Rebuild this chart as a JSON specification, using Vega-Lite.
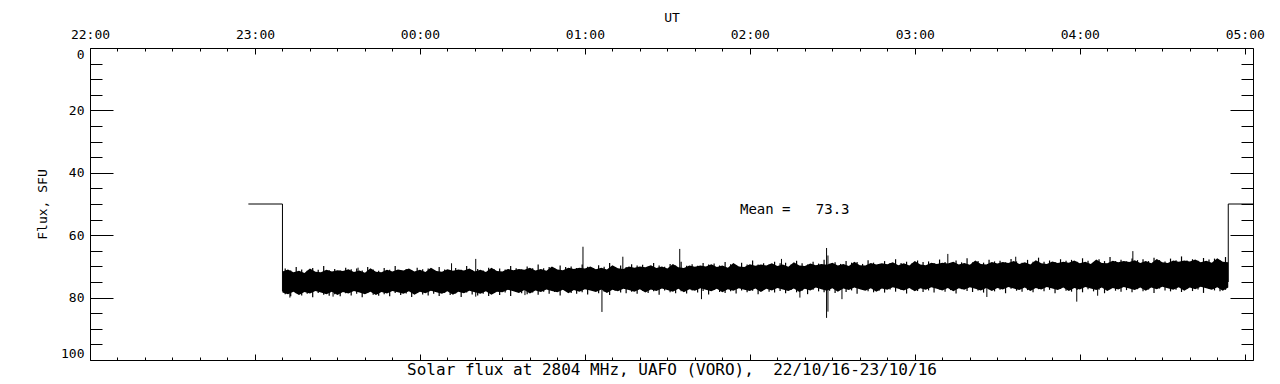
{
  "$schema": "https://vega.github.io/schema/vega-lite/v6.json",
  "width": 1163,
  "height": 312,
  "autosize": {"type": "none"},
  "padding": {"left": 90, "top": 48, "right": 27, "bottom": 24},
  "background": "white",
  "config": {
    "view": {"stroke": "black", "strokeWidth": 1},
    "axis": {
      "domain": false,
      "grid": false,
      "tickColor": "black",
      "tickWidth": 1,
      "labelColor": "black",
      "titleColor": "black",
      "labelFont": "DejaVu Sans Mono",
      "titleFont": "DejaVu Sans Mono",
      "labelFontSize": 13,
      "titleFontSize": 13,
      "titleFontWeight": "normal",
      "labelOverlap": false
    }
  },
  "datasets": {
    "band": [
      {"m":70,"fmin":71.6,"fmax":78.4},{"m":72,"fmin":71.0,"fmax":78.9},{"m":74,"fmin":71.9,"fmax":78.1},{"m":76,"fmin":71.4,"fmax":79.2},{"m":78,"fmin":72.1,"fmax":78.2},
      {"m":80,"fmin":70.7,"fmax":78.7},{"m":82,"fmin":71.7,"fmax":77.9},{"m":84,"fmin":71.9,"fmax":78.4},{"m":86,"fmin":71.1,"fmax":78.9},{"m":88,"fmin":71.6,"fmax":78.1},
      {"m":90,"fmin":71.2,"fmax":79.2},{"m":92,"fmin":71.5,"fmax":78.2},{"m":94,"fmin":70.9,"fmax":78.7},{"m":96,"fmin":71.8,"fmax":77.9},{"m":98,"fmin":71.3,"fmax":78.4},
      {"m":100,"fmin":72.0,"fmax":78.9},{"m":102,"fmin":70.6,"fmax":78.1},{"m":104,"fmin":71.7,"fmax":79.2},{"m":106,"fmin":71.9,"fmax":78.2},{"m":108,"fmin":71.1,"fmax":78.7},
      {"m":110,"fmin":71.6,"fmax":77.9},{"m":112,"fmin":71.0,"fmax":78.3},{"m":114,"fmin":71.3,"fmax":78.8},{"m":116,"fmin":70.7,"fmax":78.0},{"m":118,"fmin":71.6,"fmax":79.1},
      {"m":120,"fmin":71.1,"fmax":78.1},{"m":122,"fmin":71.8,"fmax":78.6},{"m":124,"fmin":70.4,"fmax":77.8},{"m":126,"fmin":71.5,"fmax":78.3},{"m":128,"fmin":71.7,"fmax":78.8},
      {"m":130,"fmin":70.9,"fmax":78.0},{"m":132,"fmin":71.4,"fmax":79.1},{"m":134,"fmin":71.0,"fmax":78.1},{"m":136,"fmin":71.3,"fmax":78.6},{"m":138,"fmin":70.7,"fmax":77.8},
      {"m":140,"fmin":71.6,"fmax":78.3},{"m":142,"fmin":71.1,"fmax":78.8},{"m":144,"fmin":71.8,"fmax":78.0},{"m":146,"fmin":70.4,"fmax":79.1},{"m":148,"fmin":71.5,"fmax":78.1},
      {"m":150,"fmin":71.6,"fmax":78.3},{"m":152,"fmin":70.8,"fmax":77.5},{"m":154,"fmin":71.2,"fmax":78.0},{"m":156,"fmin":70.8,"fmax":78.5},{"m":158,"fmin":71.1,"fmax":77.6},
      {"m":160,"fmin":70.4,"fmax":78.7},{"m":162,"fmin":71.3,"fmax":77.7},{"m":164,"fmin":70.8,"fmax":78.2},{"m":166,"fmin":71.4,"fmax":77.4},{"m":168,"fmin":70.0,"fmax":77.9},
      {"m":170,"fmin":71.0,"fmax":78.3},{"m":172,"fmin":71.2,"fmax":77.5},{"m":174,"fmin":70.4,"fmax":78.6},{"m":176,"fmin":70.8,"fmax":77.6},{"m":178,"fmin":70.4,"fmax":78.1},
      {"m":180,"fmin":70.7,"fmax":77.3},{"m":182,"fmin":70.0,"fmax":77.7},{"m":184,"fmin":70.9,"fmax":78.2},{"m":186,"fmin":70.4,"fmax":77.4},{"m":188,"fmin":71.0,"fmax":78.5},
      {"m":190,"fmin":69.6,"fmax":77.5},{"m":192,"fmin":70.6,"fmax":78.0},{"m":194,"fmin":70.8,"fmax":77.2},{"m":196,"fmin":70.0,"fmax":77.6},{"m":198,"fmin":70.4,"fmax":78.1},
      {"m":200,"fmin":70.0,"fmax":77.3},{"m":202,"fmin":70.3,"fmax":78.4},{"m":204,"fmin":69.6,"fmax":77.4},{"m":206,"fmin":70.5,"fmax":77.9},{"m":208,"fmin":70.0,"fmax":77.1},
      {"m":210,"fmin":70.7,"fmax":77.6},{"m":212,"fmin":69.2,"fmax":78.1},{"m":214,"fmin":70.3,"fmax":77.2},{"m":216,"fmin":70.5,"fmax":78.3},{"m":218,"fmin":69.7,"fmax":77.3},
      {"m":220,"fmin":70.1,"fmax":77.8},{"m":222,"fmin":69.7,"fmax":77.0},{"m":224,"fmin":70.0,"fmax":77.5},{"m":226,"fmin":69.3,"fmax":78.0},{"m":228,"fmin":70.2,"fmax":77.2},
      {"m":230,"fmin":69.7,"fmax":78.3},{"m":232,"fmin":70.4,"fmax":77.3},{"m":234,"fmin":68.9,"fmax":77.8},{"m":236,"fmin":70.0,"fmax":77.0},{"m":238,"fmin":70.2,"fmax":77.5},
      {"m":240,"fmin":69.3,"fmax":77.9},{"m":242,"fmin":69.8,"fmax":77.1},{"m":244,"fmin":69.4,"fmax":78.2},{"m":246,"fmin":69.7,"fmax":77.2},{"m":248,"fmin":69.0,"fmax":77.7},
      {"m":250,"fmin":69.9,"fmax":76.9},{"m":252,"fmin":69.4,"fmax":77.4},{"m":254,"fmin":70.1,"fmax":77.9},{"m":256,"fmin":68.7,"fmax":77.1},{"m":258,"fmin":69.7,"fmax":78.2},
      {"m":260,"fmin":69.9,"fmax":77.2},{"m":262,"fmin":69.1,"fmax":77.7},{"m":264,"fmin":69.6,"fmax":76.8},{"m":266,"fmin":69.2,"fmax":77.3},{"m":268,"fmin":69.5,"fmax":77.8},
      {"m":270,"fmin":68.8,"fmax":77.0},{"m":272,"fmin":69.7,"fmax":78.1},{"m":274,"fmin":69.2,"fmax":77.1},{"m":276,"fmin":69.9,"fmax":77.6},{"m":278,"fmin":68.5,"fmax":76.8},
      {"m":280,"fmin":69.6,"fmax":77.3},{"m":282,"fmin":69.7,"fmax":77.8},{"m":284,"fmin":68.9,"fmax":77.0},{"m":286,"fmin":69.4,"fmax":78.1},{"m":288,"fmin":69.0,"fmax":77.1},
      {"m":290,"fmin":69.3,"fmax":77.5},{"m":292,"fmin":68.7,"fmax":76.7},{"m":294,"fmin":69.6,"fmax":77.2},{"m":296,"fmin":69.0,"fmax":77.7},{"m":298,"fmin":69.7,"fmax":76.9},
      {"m":300,"fmin":68.3,"fmax":78.0},{"m":302,"fmin":69.4,"fmax":77.0},{"m":304,"fmin":69.6,"fmax":77.5},{"m":306,"fmin":68.8,"fmax":76.7},{"m":308,"fmin":69.2,"fmax":77.2},
      {"m":310,"fmin":68.8,"fmax":77.7},{"m":312,"fmin":69.1,"fmax":76.9},{"m":314,"fmin":68.5,"fmax":78.0},{"m":316,"fmin":69.4,"fmax":77.0},{"m":318,"fmin":68.9,"fmax":77.5},
      {"m":320,"fmin":69.5,"fmax":76.7},{"m":322,"fmin":68.1,"fmax":77.2},{"m":324,"fmin":69.2,"fmax":77.7},{"m":326,"fmin":69.4,"fmax":76.9},{"m":328,"fmin":68.6,"fmax":77.9},
      {"m":330,"fmin":69.1,"fmax":76.9},{"m":332,"fmin":68.6,"fmax":77.4},{"m":334,"fmin":68.9,"fmax":76.6},{"m":336,"fmin":68.3,"fmax":77.1},{"m":338,"fmin":69.2,"fmax":77.6},
      {"m":340,"fmin":68.7,"fmax":76.8},{"m":342,"fmin":69.4,"fmax":77.9},{"m":344,"fmin":68.0,"fmax":76.9},{"m":346,"fmin":69.0,"fmax":77.4},{"m":348,"fmin":69.2,"fmax":76.6},
      {"m":350,"fmin":68.4,"fmax":77.1},{"m":352,"fmin":68.9,"fmax":77.6},{"m":354,"fmin":68.5,"fmax":76.8},{"m":356,"fmin":68.8,"fmax":77.9},{"m":358,"fmin":68.1,"fmax":76.9},
      {"m":360,"fmin":69.0,"fmax":77.4},{"m":362,"fmin":68.5,"fmax":76.6},{"m":364,"fmin":69.2,"fmax":77.1},{"m":366,"fmin":67.8,"fmax":77.6},{"m":368,"fmin":68.9,"fmax":76.8},
      {"m":370,"fmin":69.0,"fmax":77.9},{"m":372,"fmin":68.2,"fmax":76.9},{"m":374,"fmin":68.7,"fmax":77.4},{"m":376,"fmin":68.3,"fmax":76.6},{"m":378,"fmin":68.6,"fmax":77.1},
      {"m":380,"fmin":68.0,"fmax":77.6},{"m":382,"fmin":68.9,"fmax":76.8},{"m":384,"fmin":68.3,"fmax":77.8},{"m":386,"fmin":69.0,"fmax":76.8},{"m":388,"fmin":67.6,"fmax":77.3},
      {"m":390,"fmin":68.7,"fmax":76.5},{"m":392,"fmin":68.9,"fmax":77.0},{"m":394,"fmin":68.1,"fmax":77.5},{"m":396,"fmin":68.5,"fmax":76.7},{"m":398,"fmin":68.1,"fmax":77.8},
      {"m":400,"fmin":68.4,"fmax":76.8},{"m":402,"fmin":67.8,"fmax":77.3},{"m":404,"fmin":68.7,"fmax":76.5},{"m":406,"fmin":68.2,"fmax":77.0},{"m":408,"fmin":68.8,"fmax":77.5},
      {"m":410,"fmin":67.4,"fmax":76.7},{"m":412,"fmin":68.5,"fmax":77.8},{"m":414,"fmin":68.7,"fmax":76.8}
    ],
    "noise": [
      {"m":71,"fmin":70.7,"fmax":78.9},{"m":73,"fmin":71.3,"fmax":79.6},{"m":75,"fmin":70.2,"fmax":78.6},{"m":77,"fmin":71.0,"fmax":79.3},{"m":79,"fmin":71.4,"fmax":78.8},
      {"m":81,"fmin":70.5,"fmax":79.9},{"m":83,"fmin":71.1,"fmax":78.5},{"m":85,"fmin":69.9,"fmax":79.1},{"m":87,"fmin":71.2,"fmax":79.4},{"m":89,"fmin":70.8,"fmax":78.9},
      {"m":91,"fmin":71.3,"fmax":79.6},{"m":93,"fmin":70.4,"fmax":78.6},{"m":95,"fmin":70.9,"fmax":79.3},{"m":97,"fmin":70.7,"fmax":78.8},{"m":99,"fmin":71.3,"fmax":79.9},
      {"m":101,"fmin":70.2,"fmax":78.5},{"m":103,"fmin":71.0,"fmax":79.1},{"m":105,"fmin":71.4,"fmax":79.4},{"m":107,"fmin":70.5,"fmax":78.9},{"m":109,"fmin":71.1,"fmax":79.6},
      {"m":111,"fmin":69.9,"fmax":78.5},{"m":113,"fmin":71.2,"fmax":79.2},{"m":115,"fmin":70.8,"fmax":78.7},{"m":117,"fmin":71.3,"fmax":79.8},{"m":119,"fmin":70.4,"fmax":78.4},
      {"m":121,"fmin":70.9,"fmax":79.0},{"m":123,"fmin":70.7,"fmax":79.3},{"m":125,"fmin":71.3,"fmax":78.8},{"m":127,"fmin":70.2,"fmax":79.5},{"m":129,"fmin":71.0,"fmax":78.5},
      {"m":131,"fmin":71.4,"fmax":79.2},{"m":133,"fmin":70.5,"fmax":78.7},{"m":135,"fmin":71.1,"fmax":79.8},{"m":137,"fmin":69.9,"fmax":78.4},{"m":139,"fmin":71.2,"fmax":79.0},
      {"m":141,"fmin":70.8,"fmax":79.3},{"m":143,"fmin":71.3,"fmax":78.8},{"m":145,"fmin":70.4,"fmax":79.5},{"m":147,"fmin":70.9,"fmax":78.5},{"m":149,"fmin":70.7,"fmax":79.2},
      {"m":151,"fmin":71.0,"fmax":78.4},{"m":153,"fmin":69.9,"fmax":79.5},{"m":155,"fmin":70.6,"fmax":78.1},{"m":157,"fmin":71.0,"fmax":78.6},{"m":159,"fmin":70.0,"fmax":78.9},
      {"m":161,"fmin":70.6,"fmax":78.4},{"m":163,"fmin":69.4,"fmax":79.1},{"m":165,"fmin":70.6,"fmax":78.1},{"m":167,"fmin":70.2,"fmax":78.8},{"m":169,"fmin":70.7,"fmax":78.2},
      {"m":171,"fmin":69.7,"fmax":79.3},{"m":173,"fmin":70.2,"fmax":77.9},{"m":175,"fmin":70.0,"fmax":78.5},{"m":177,"fmin":70.5,"fmax":78.8},{"m":179,"fmin":69.4,"fmax":78.3},
      {"m":181,"fmin":70.1,"fmax":79.0},{"m":183,"fmin":70.5,"fmax":77.9},{"m":185,"fmin":69.6,"fmax":78.6},{"m":187,"fmin":70.1,"fmax":78.1},{"m":189,"fmin":68.9,"fmax":79.2},
      {"m":191,"fmin":70.2,"fmax":77.8},{"m":193,"fmin":69.7,"fmax":78.4},{"m":195,"fmin":70.2,"fmax":78.6},{"m":197,"fmin":69.3,"fmax":78.1},{"m":199,"fmin":69.7,"fmax":78.8},
      {"m":201,"fmin":69.5,"fmax":77.8},{"m":203,"fmin":70.1,"fmax":78.5},{"m":205,"fmin":68.9,"fmax":78.0},{"m":207,"fmin":69.7,"fmax":79.1},{"m":209,"fmin":70.1,"fmax":77.7},
      {"m":211,"fmin":69.2,"fmax":78.3},{"m":213,"fmin":69.7,"fmax":78.6},{"m":215,"fmin":68.5,"fmax":78.0},{"m":217,"fmin":69.8,"fmax":78.7},{"m":219,"fmin":69.3,"fmax":77.7},
      {"m":221,"fmin":69.8,"fmax":78.4},{"m":223,"fmin":68.9,"fmax":77.9},{"m":225,"fmin":69.4,"fmax":79.0},{"m":227,"fmin":69.1,"fmax":77.6},{"m":229,"fmin":69.7,"fmax":78.2},
      {"m":231,"fmin":68.6,"fmax":78.5},{"m":233,"fmin":69.3,"fmax":78.0},{"m":235,"fmin":69.7,"fmax":78.7},{"m":237,"fmin":68.8,"fmax":77.7},{"m":239,"fmin":69.4,"fmax":78.3},
      {"m":241,"fmin":68.1,"fmax":77.8},{"m":243,"fmin":69.4,"fmax":78.9},{"m":245,"fmin":69.0,"fmax":77.5},{"m":247,"fmin":69.4,"fmax":78.1},{"m":249,"fmin":68.5,"fmax":78.4},
      {"m":251,"fmin":69.0,"fmax":77.9},{"m":253,"fmin":68.8,"fmax":78.6},{"m":255,"fmin":69.4,"fmax":77.6},{"m":257,"fmin":68.2,"fmax":78.3},{"m":259,"fmin":69.0,"fmax":77.8},
      {"m":261,"fmin":69.4,"fmax":78.9},{"m":263,"fmin":68.5,"fmax":77.5},{"m":265,"fmin":69.1,"fmax":78.0},{"m":267,"fmin":67.9,"fmax":78.3},{"m":269,"fmin":69.2,"fmax":77.8},
      {"m":271,"fmin":68.7,"fmax":78.5},{"m":273,"fmin":69.2,"fmax":77.5},{"m":275,"fmin":68.3,"fmax":78.2},{"m":277,"fmin":68.8,"fmax":77.7},{"m":279,"fmin":68.6,"fmax":78.8},
      {"m":281,"fmin":69.2,"fmax":77.4},{"m":283,"fmin":68.0,"fmax":78.0},{"m":285,"fmin":68.8,"fmax":78.3},{"m":287,"fmin":69.2,"fmax":77.8},{"m":289,"fmin":68.3,"fmax":78.4},
      {"m":291,"fmin":68.9,"fmax":77.4},{"m":293,"fmin":67.7,"fmax":78.1},{"m":295,"fmin":68.9,"fmax":77.6},{"m":297,"fmin":68.5,"fmax":78.7},{"m":299,"fmin":69.0,"fmax":77.3},
      {"m":301,"fmin":68.1,"fmax":77.9},{"m":303,"fmin":68.6,"fmax":78.2},{"m":305,"fmin":68.4,"fmax":77.7},{"m":307,"fmin":68.9,"fmax":78.4},{"m":309,"fmin":67.8,"fmax":77.4},
      {"m":311,"fmin":68.6,"fmax":78.1},{"m":313,"fmin":69.0,"fmax":77.6},{"m":315,"fmin":68.1,"fmax":78.7},{"m":317,"fmin":68.7,"fmax":77.3},{"m":319,"fmin":67.4,"fmax":77.9},
      {"m":321,"fmin":68.7,"fmax":78.2},{"m":323,"fmin":68.3,"fmax":77.7},{"m":325,"fmin":68.8,"fmax":78.4},{"m":327,"fmin":67.9,"fmax":77.3},{"m":329,"fmin":68.4,"fmax":78.0},
      {"m":331,"fmin":68.2,"fmax":77.5},{"m":333,"fmin":68.7,"fmax":78.6},{"m":335,"fmin":67.6,"fmax":77.2},{"m":337,"fmin":68.4,"fmax":77.8},{"m":339,"fmin":68.8,"fmax":78.1},
      {"m":341,"fmin":67.9,"fmax":77.6},{"m":343,"fmin":68.5,"fmax":78.3},{"m":345,"fmin":67.2,"fmax":77.3},{"m":347,"fmin":68.5,"fmax":78.0},{"m":349,"fmin":68.1,"fmax":77.5},
      {"m":351,"fmin":68.6,"fmax":78.6},{"m":353,"fmin":67.7,"fmax":77.2},{"m":355,"fmin":68.2,"fmax":77.8},{"m":357,"fmin":67.9,"fmax":78.1},{"m":359,"fmin":68.5,"fmax":77.6},
      {"m":361,"fmin":67.4,"fmax":78.3},{"m":363,"fmin":68.2,"fmax":77.3},{"m":365,"fmin":68.6,"fmax":78.0},{"m":367,"fmin":67.7,"fmax":77.5},{"m":369,"fmin":68.3,"fmax":78.6},
      {"m":371,"fmin":67.0,"fmax":77.2},{"m":373,"fmin":68.3,"fmax":77.8},{"m":375,"fmin":67.9,"fmax":78.1},{"m":377,"fmin":68.4,"fmax":77.6},{"m":379,"fmin":67.5,"fmax":78.3},
      {"m":381,"fmin":68.0,"fmax":77.3},{"m":383,"fmin":67.7,"fmax":78.0},{"m":385,"fmin":68.3,"fmax":77.4},{"m":387,"fmin":67.2,"fmax":78.5},{"m":389,"fmin":68.0,"fmax":77.1},
      {"m":391,"fmin":68.4,"fmax":77.7},{"m":393,"fmin":67.5,"fmax":78.0},{"m":395,"fmin":68.0,"fmax":77.5},{"m":397,"fmin":66.8,"fmax":78.2},{"m":399,"fmin":68.1,"fmax":77.2},
      {"m":401,"fmin":67.7,"fmax":77.9},{"m":403,"fmin":68.2,"fmax":77.4},{"m":405,"fmin":67.3,"fmax":78.5},{"m":407,"fmin":67.8,"fmax":77.1},{"m":409,"fmin":67.5,"fmax":77.7},
      {"m":411,"fmin":68.1,"fmax":78.0},{"m":413,"fmin":67.0,"fmax":77.5}
    ],
    "spikes": [
      {"m":72.7,"fmin":75,"fmax":80.0},{"m":88.4,"fmin":75,"fmax":79.7},{"m":97.5,"fmin":70.4,"fmax":75},
      {"m":131.5,"fmin":69.0,"fmax":75},{"m":140.3,"fmin":67.6,"fmax":79.7},{"m":158.2,"fmin":75,"fmax":79.2},
      {"m":179.3,"fmin":63.7,"fmax":75},{"m":186.2,"fmin":73,"fmax":84.6},{"m":193.8,"fmin":66.9,"fmax":74},
      {"m":214.5,"fmin":64.4,"fmax":74},{"m":222.4,"fmin":73,"fmax":80.5},{"m":251.5,"fmin":67.6,"fmax":74},
      {"m":258.2,"fmin":73,"fmax":80.0},{"m":267.9,"fmin":64.1,"fmax":86.5},{"m":268.4,"fmin":66.5,"fmax":84.5},
      {"m":273.5,"fmin":73,"fmax":80.5},{"m":312.0,"fmin":66.0,"fmax":73},{"m":326.2,"fmin":73,"fmax":79.8},
      {"m":336.7,"fmin":66.9,"fmax":73},{"m":358.9,"fmin":73,"fmax":81.3},{"m":366.5,"fmin":73,"fmax":79.4},
      {"m":379.3,"fmin":65.1,"fmax":73}
    ],
    "edges": [
      {"seg":"start","i":0,"m":57.6,"f":50},{"seg":"start","i":1,"m":70,"f":50},{"seg":"start","i":2,"m":70,"f":78},
      {"seg":"end","i":0,"m":414,"f":75},{"seg":"end","i":1,"m":414,"f":50},{"seg":"end","i":2,"m":423,"f":50}
    ],
    "notes": [
      {"m":236.4,"f":52,"label":"Mean =\u00a0\u00a0 73.3"}
    ]
  },
  "layer": [
    {
      "data": {"name": "band"},
      "mark": {"type": "area", "color": "black", "interpolate": "linear"},
      "encoding": {
        "x": {"field": "m", "type": "quantitative",
          "scale": {"domain": [0, 423], "nice": false, "zero": false},
          "axis": {"orient": "top", "values": [0,60,120,180,240,300,360,420], "ticks": false,
            "labelExpr": "['22:00','23:00','00:00','01:00','02:00','03:00','04:00','05:00'][round(datum.value/60)]",
            "labelPadding": 7, "labelFlush": false, "title": "UT", "titlePadding": 4}},
        "y": {"field": "fmin", "type": "quantitative",
          "scale": {"domain": [0, 100], "nice": false, "zero": false, "reverse": true},
          "axis": {"orient": "left", "values": [0,20,40,60,80,100], "ticks": false,
            "labelPadding": 6, "labelFlush": true, "title": "Flux, SFU", "titlePadding": 11}},
        "y2": {"field": "fmax"}
      }
    },
    {
      "data": {"name": "noise"},
      "mark": {"type": "rule", "color": "black", "strokeWidth": 1.2},
      "encoding": {
        "x": {"field": "m", "type": "quantitative",
          "scale": {"domain": [0, 423], "nice": false, "zero": false}, "axis": null},
        "y": {"field": "fmin", "type": "quantitative",
          "scale": {"domain": [0, 100], "nice": false, "zero": false, "reverse": true}, "axis": null},
        "y2": {"field": "fmax"}
      }
    },
    {
      "data": {"name": "edges"},
      "mark": {"type": "line", "color": "black", "strokeWidth": 1},
      "encoding": {
        "x": {"field": "m", "type": "quantitative",
          "scale": {"domain": [0, 423], "nice": false, "zero": false},
          "axis": {"orient": "top", "values": [0,60,120,180,240,300,360,420], "labels": false, "tickSize": -6, "title": null}},
        "y": {"field": "f", "type": "quantitative",
          "scale": {"domain": [0, 100], "nice": false, "zero": false, "reverse": true},
          "axis": {"orient": "left", "values": [0,20,40,60,80,100], "labels": false, "tickSize": -23, "title": null}},
        "detail": {"field": "seg"},
        "order": {"field": "i"}
      }
    },
    {
      "data": {"name": "spikes"},
      "mark": {"type": "rule", "color": "black", "strokeWidth": 1},
      "encoding": {
        "x": {"field": "m", "type": "quantitative",
          "scale": {"domain": [0, 423], "nice": false, "zero": false},
          "axis": {"orient": "top", "values": [10,20,30,40,50,70,80,90,100,110,130,140,150,160,170,190,200,210,220,230,250,260,270,280,290,310,320,330,340,350,370,380,390,400,410], "labels": false, "tickSize": -3, "title": null}},
        "y": {"field": "fmin", "type": "quantitative",
          "scale": {"domain": [0, 100], "nice": false, "zero": false, "reverse": true},
          "axis": {"orient": "left", "values": [5,10,15,25,30,35,45,50,55,65,70,75,85,90,95], "labels": false, "tickSize": -12, "title": null}},
        "y2": {"field": "fmax"}
      }
    },
    {
      "data": {"name": "notes"},
      "mark": {"type": "text", "color": "black", "align": "left", "baseline": "middle", "font": "DejaVu Sans Mono", "fontSize": 14},
      "encoding": {
        "x": {"field": "m", "type": "quantitative",
          "scale": {"domain": [0, 423], "nice": false, "zero": false},
          "axis": {"orient": "bottom", "values": [0,60,120,180,240,300,360,420], "labels": false, "tickSize": -6,
            "title": "Solar flux at 2804 MHz, UAFO (VORO),\u00a0 22/10/16-23/10/16", "titleFontSize": 16, "titlePadding": 1}},
        "y": {"field": "f", "type": "quantitative",
          "scale": {"domain": [0, 100], "nice": false, "zero": false, "reverse": true},
          "axis": {"orient": "right", "values": [0,20,40,60,80,100], "labels": false, "tickSize": -23, "title": null}},
        "text": {"field": "label"}
      }
    },
    {
      "data": {"name": "notes"},
      "mark": {"type": "point", "opacity": 0},
      "encoding": {
        "x": {"field": "m", "type": "quantitative",
          "scale": {"domain": [0, 423], "nice": false, "zero": false},
          "axis": {"orient": "bottom", "values": [10,20,30,40,50,70,80,90,100,110,130,140,150,160,170,190,200,210,220,230,250,260,270,280,290,310,320,330,340,350,370,380,390,400,410], "labels": false, "tickSize": -3, "title": null}},
        "y": {"field": "f", "type": "quantitative",
          "scale": {"domain": [0, 100], "nice": false, "zero": false, "reverse": true},
          "axis": {"orient": "right", "values": [5,10,15,25,30,35,45,50,55,65,70,75,85,90,95], "labels": false, "tickSize": -12, "title": null}}
      }
    }
  ],
  "resolve": {"axis": {"x": "independent", "y": "independent"}}
}
